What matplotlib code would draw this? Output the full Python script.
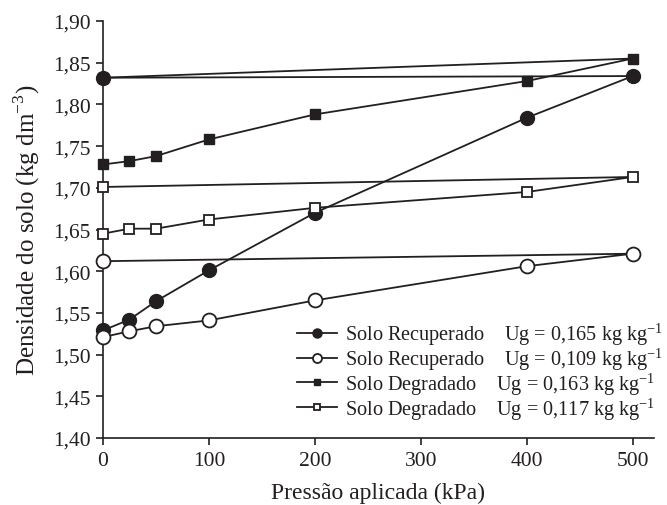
import numpy as np
import matplotlib
matplotlib.use('Agg')
import matplotlib.pyplot as plt
from matplotlib.ticker import FuncFormatter

plt.rcParams['font.family'] = ['Liberation Serif', 'DejaVu Serif']
plt.rcParams['mathtext.fontset'] = 'custom'
plt.rcParams['mathtext.rm'] = 'Liberation Serif'

# pressure sequence: loading to 500 kPa, then unloading back to 0
pressao = [0, 25, 50, 100, 200, 400, 500, 0]

rec_165 = [1.529, 1.542, 1.564, 1.601, 1.670, 1.784, 1.834, 1.832]
rec_109 = [1.521, 1.528, 1.534, 1.541, 1.565, 1.606, 1.621, 1.612]
deg_163 = [1.728, 1.732, 1.738, 1.758, 1.788, 1.828, 1.855, 1.832]
deg_117 = [1.645, 1.651, 1.651, 1.662, 1.676, 1.695, 1.713, 1.701]

labels = ['Solo Recuperado    Ug = 0,165 kg kg$^{\\mathregular{-1}}$',
          'Solo Recuperado    Ug = 0,109 kg kg$^{\\mathregular{-1}}$',
          'Solo Degradado    Ug = 0,163 kg kg$^{\\mathregular{-1}}$',
          'Solo Degradado    Ug = 0,117 kg kg$^{\\mathregular{-1}}$']

cor = '#231f20'

fig = plt.figure(figsize=(6.67, 5.06), dpi=100)
ax = fig.add_axes([0.1544, 0.1324, 0.826, 0.8241])

ax.plot(pressao, rec_165, '-o', color=cor, lw=1.3, ms=10, mfc=cor, mec=cor,
        label=labels[0], zorder=3, clip_on=False)
ax.plot(pressao, rec_109, '-o', color=cor, lw=1.3, ms=10, mfc='white', mec=cor,
        mew=1.3, label=labels[1], zorder=3, clip_on=False)
ax.plot(pressao, deg_163, '-s', color=cor, lw=1.3, ms=7.5, mfc=cor, mec=cor,
        label=labels[2], zorder=2, clip_on=False)
ax.plot(pressao, deg_117, '-s', color=cor, lw=1.3, ms=7, mfc='white', mec=cor,
        mew=1.3, label=labels[3], zorder=4, clip_on=False)

ax.set_xlim(0, 520)
ax.set_ylim(1.40, 1.90)
ax.set_xticks(np.arange(0, 501, 100))
ax.set_yticks(np.arange(1.40, 1.91, 0.05))
ax.yaxis.set_major_formatter(FuncFormatter(lambda v, p: ('%.2f' % v).replace('.', ',')))

for s in ['top', 'right']:
    ax.spines[s].set_visible(False)
for s in ['left', 'bottom']:
    ax.spines[s].set_linewidth(1.2)
    ax.spines[s].set_color(cor)
ax.tick_params(direction='out', length=5, width=1.2, colors=cor, labelsize=15.5,
               labelcolor=cor, pad=4)

ax.set_xlabel('Pressão aplicada (kPa)', fontsize=17, color=cor, labelpad=9)
ax.set_ylabel('Densidade do solo (kg dm$^{\\mathregular{-3}}$)', fontsize=18,
              color=cor, labelpad=8)

leg = ax.legend(loc='lower right', bbox_to_anchor=(1.032, 0.02), frameon=False,
                fontsize=14.6, handlelength=2.0, handletextpad=0.4,
                labelspacing=-0.1, markerscale=0.65, borderaxespad=0)
for t in leg.get_texts():
    t.set_color(cor)

fig.savefig('out.png', dpi=100)
